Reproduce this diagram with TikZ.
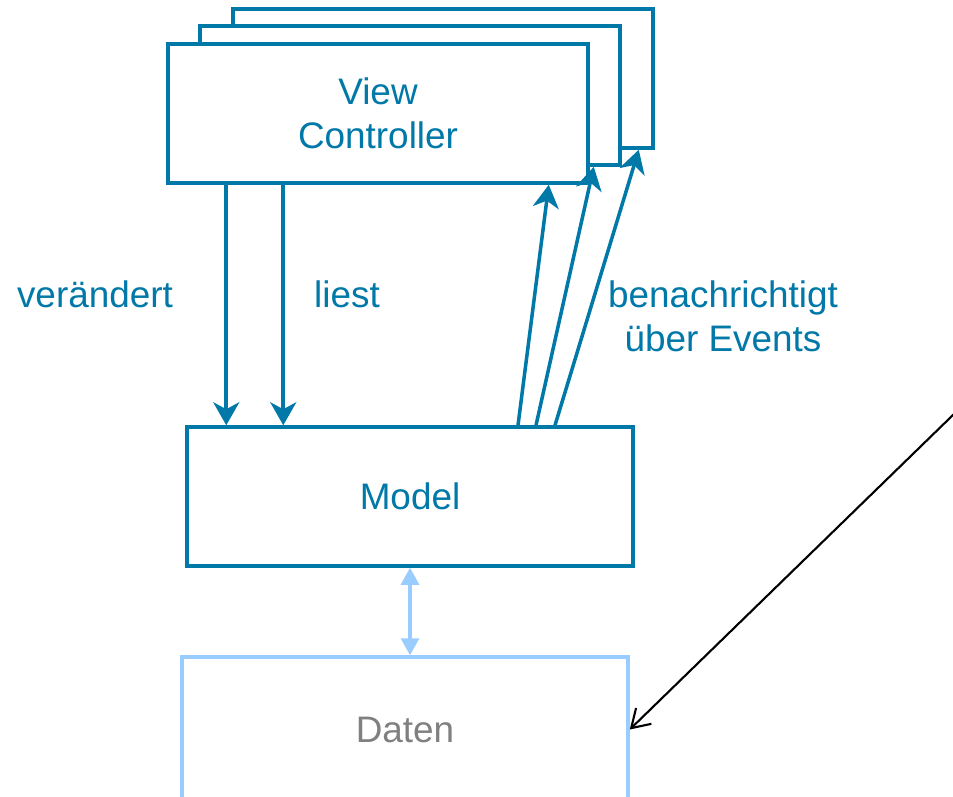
\documentclass[tikz,border=0pt]{standalone}
\usepackage{fontspec}
\setmainfont{Liberation Sans}
\usepackage{xcolor}
\usepackage{tikz}
\usetikzlibrary{arrows.meta, positioning, calc}

\definecolor{mvcblue}{RGB}{0,120,168}
\definecolor{datablue}{RGB}{153,204,255}
\definecolor{datagray}{RGB}{128,128,128}

\begin{document}
\begin{tikzpicture}[
    block/.style={rectangle, draw=mvcblue, line width=2pt, fill=white, minimum width=8.4cm, minimum height=2.78cm, align=center, text=mvcblue, font=\fontsize{21}{25}\selectfont},
    datablock/.style={rectangle, draw=datablue, line width=2pt, fill=white, minimum width=8.92cm, minimum height=2.9cm, align=center, text=datagray, font=\fontsize{21}{25}\selectfont},
    lbl/.style={align=center, text=mvcblue, font=\fontsize{21}{25}\selectfont},
    arrow/.style={-{Stealth[length=4.6mm, width=5.2mm, inset=1.4mm]}, line width=2pt, mvcblue},
    dataarrow/.style={{Triangle[length=3.4mm, width=3.6mm]}-{Triangle[length=3.4mm, width=3.6mm]}, line width=1.8pt, datablue},
    pointer/.style={-{Straight Barb[length=3.5mm, width=4.4mm]}, line width=1.2pt, black}
]
\useasboundingbox (0,0) rectangle (19.06,-15.92);

% Stacked views (back to front)
\node[block] (vc3) at (8.86,-1.57) {};
\node[block] (vc2) at (8.20,-1.91) {};
\node[block] (vc) at (7.56,-2.27) {View\\Controller};

% Model and data
\node[block, minimum width=8.92cm] (model) at (8.20,-9.93) {Model};
\node[datablock] (daten) at (8.10,-14.59) {Daten};

% Labels
\node[lbl] (lchange) at (1.90,-5.88) {verändert};
\node[lbl] (lread) at (6.94,-5.88) {liest};
\node[lbl] (lnotify) at (14.46,-6.32) {benachrichtigt\\über Events};

% === Arrows ===
% Controller -> model
\draw[arrow] ([xshift=1.2cm]vc.south west) -- ([xshift=1.2cm]vc.south west |- model.north);
\draw[arrow] ([xshift=2.34cm]vc.south west) -- ([xshift=2.34cm]vc.south west |- model.north);

% Model notifies each view
\draw[arrow] ([xshift=2.16cm]model.north) -- ([xshift=-0.82cm]vc.south east);
\draw[arrow] ([xshift=2.52cm]model.north) -- ([xshift=-0.56cm]vc2.south east);
\draw[arrow] ([xshift=2.90cm]model.north) -- ([xshift=-0.32cm]vc3.south east);

% Model <-> data
\draw[dataarrow] (model.south) -- (model.south |- daten.north);

% Pointer from outside
\coordinate (outside) at (19.10,-8.26);
\draw[pointer] (outside) -- (daten.east);
\end{tikzpicture}
\end{document}
